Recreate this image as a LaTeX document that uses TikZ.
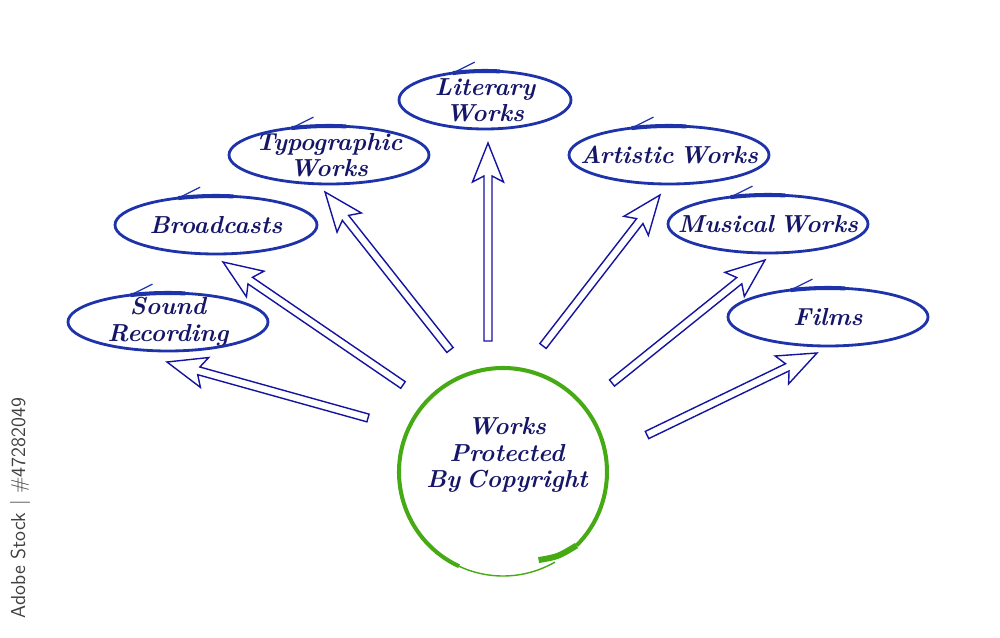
\documentclass[tikz,border=0pt]{standalone}
\usepackage{xcolor}
\usepackage{tikz}
\usetikzlibrary{positioning,calc}

\definecolor{ovalblue}{RGB}{30,50,170}
\definecolor{inkblue}{RGB}{22,22,105}
\definecolor{arrowblue}{RGB}{20,20,160}
\definecolor{ringgreen}{RGB}{70,170,20}

\newcommand{\handfont}{\fontsize{14}{15}\selectfont\bfseries\itshape\spaceskip=0.24em\relax}

\begin{document}
\begin{tikzpicture}[
    x=0.02cm, y=0.02cm,
    every node/.style={align=center, text=inkblue},
    label/.style={font=\handfont},
    oval/.style={draw=ovalblue, line width=1.6pt},
    ring/.style={draw=ringgreen, line width=2.3pt},
    hollow/.style={draw=arrowblue, line width=0.8pt, fill=white, line join=miter}
]
\useasboundingbox (0,0) rectangle (1000,-638);

% Centre
\coordinate (core) at (503,-472);
\node[label] (title) at (507,-455) {Works\\Protected\\By Copyright};

% Topics
\node[label] (sound) at (168,-322) {Sound\\Recording};
\node[label] (broad) at (216,-225) {Broadcasts};
\node[label] (typo) at (329,-155) {Typographic\\Works};
\node[label] (liter) at (485,-100) {Literary\\Works};
\node[label] (artis) at (669,-155) {Artistic Works};
\node[label] (music) at (768,-224) {Musical Works};
\node[label] (films) at (828,-317) {Films};

% Ovals
\foreach \n/\r in {sound/100, broad/101, typo/100, liter/86, artis/100, music/100, films/100} {
    \draw[oval] (\n.center) ellipse [x radius=\r, y radius=29];
    \draw[oval, line width=2.3pt] ($(\n.center)+(112:{\r} and 29)$)
        arc[start angle=112, end angle=80, x radius=\r, y radius=29];
    \draw[oval, line width=0.7pt] ($(\n.center)+(112:{\r} and 29)$) -- ++(22,11);
}

% Ring
\draw[ring] ($(core)+(-115:104)$) arc[start angle=-115, end angle=-405, radius=104];
\draw[ring, line width=3.4pt] ($(core)+(-45:104)$)
    .. controls ($(core)+(-57:101)$) .. ($(core)+(-68:95)$);
\draw[ring, line width=0.8pt] ($(core)+(-115:104)$) arc[start angle=-115, end angle=-60, radius=104];

% Arrow ends
\coordinate (t-sound) at (368,-418); \coordinate (h-sound) at (167,-362);
\coordinate (t-broad) at (403,-385); \coordinate (h-broad) at (223,-262);
\coordinate (t-typo) at (450,-350);  \coordinate (h-typo) at (325,-192);
\coordinate (t-liter) at (488,-341); \coordinate (h-liter) at (488,-143);
\coordinate (t-artis) at (543,-346); \coordinate (h-artis) at (660,-195);
\coordinate (t-music) at (612,-383); \coordinate (h-music) at (765,-260);
\coordinate (t-films) at (647,-435); \coordinate (h-films) at (817,-353);

% Hollow arrows
\foreach \src/\dst in {t-sound/h-sound, t-broad/h-broad, t-typo/h-typo, t-liter/h-liter,
                       t-artis/h-artis, t-music/h-music, t-films/h-films} {
    \coordinate (neck) at ($(\dst)!0.66cm!(\src)$);
    \coordinate (barb) at ($(\dst)!0.78cm!(\src)$);
    \draw[hollow] ($(\src)!0.08cm!90:(\dst)$) -- ($(neck)!0.08cm!90:(\dst)$)
        -- ($(barb)!0.31cm!90:(\dst)$) -- (\dst) -- ($(barb)!0.31cm!-90:(\dst)$)
        -- ($(neck)!0.08cm!-90:(\dst)$) -- ($(\src)!0.08cm!-90:(\dst)$) -- cycle;
}

% Stock mark
\node[rotate=90, text=black!75, font=\sffamily\fontsize{11.5}{11.5}\selectfont] (stock) at (20,-508) {Adobe Stock | \#47282049};

\end{tikzpicture}
\end{document}
